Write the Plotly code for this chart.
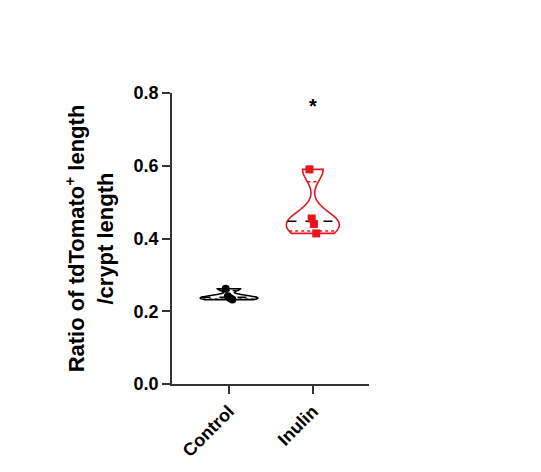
import numpy as np
import plotly.graph_objects as go

# Data
groups = ["Control", "Inulin"]
control_vals = [0.262, 0.241, 0.236, 0.232]
inulin_vals = [0.590, 0.455, 0.440, 0.414]
sig_label = "*"
sig_y = 0.765


def half_width(vals, y, bw, width):
    # gaussian KDE scaled the way plotly does for scalemode="width" + hard span
    v = np.array(vals)
    grid = np.linspace(v.min(), v.max(), 200)
    dens = lambda t: np.exp(-0.5 * ((t - v[:, None]) / bw) ** 2).sum(axis=0)
    return width / 2 * dens(np.atleast_1d(y))[0] / dens(grid).max()


fig = go.Figure()

series = [
    (0, control_vals, "black", "circle", 0.006, 0.69),
    (1, inulin_vals, "#e8141c", "square", 0.03, 0.63),
]

for xpos, vals, col, sym, bw, vw in series:
    fig.add_trace(go.Violin(
        x=[xpos] * len(vals), y=vals,
        line=dict(color=col, width=1.6),
        fillcolor="white",
        points=False, span=[min(vals), max(vals)], spanmode="manual",
        bandwidth=bw, width=vw, scalemode="width",
        hoverinfo="skip",
    ))
    # quartile (dotted) and median (dashed) lines
    q1, med, q3 = np.percentile(vals, [25, 50, 75], method="weibull")
    for yv, dash, lc in [(q1, "dot", col), (q3, "dot", col), (med, "dash", "black")]:
        hw = half_width(vals, yv, bw, vw)
        fig.add_trace(go.Scatter(
            x=[xpos - hw, xpos + hw], y=[yv, yv], mode="lines",
            line=dict(color=lc, width=1.5, dash=dash), hoverinfo="skip",
        ))
    offs = np.linspace(-0.04, 0.04, len(vals))
    fig.add_trace(go.Scatter(
        x=xpos + offs, y=vals, mode="markers",
        marker=dict(color=col, symbol=sym, size=8),
    ))

fig.add_annotation(x=1, y=sig_y, text="<b>%s</b>" % sig_label, showarrow=False,
                   font=dict(size=20, color="black", family="Arial"))

axis_font = dict(family="Liberation Sans, Arial", size=18, color="black")

fig.update_layout(
    width=541, height=472,
    margin=dict(l=164, r=180, t=85, b=96),
    plot_bgcolor="white", paper_bgcolor="white",
    showlegend=False,
    font=dict(family="Liberation Sans, Arial", color="black"),
)
fig.update_xaxes(
    range=[-0.68, 1.67], tickvals=[0, 1], ticktext=["<b>%s</b>" % g for g in groups],
    tickangle=-45, ticks="outside", ticklen=8, tickwidth=1.5, tickcolor="#333",
    showline=True, linecolor="#333", linewidth=1.5, showgrid=False, zeroline=False,
    tickfont=axis_font,
)
fig.update_yaxes(
    range=[0, 0.8], tickvals=[0, 0.2, 0.4, 0.6, 0.8],
    ticktext=["<b>%.1f</b>" % v for v in [0, 0.2, 0.4, 0.6, 0.8]],
    ticks="outside", ticklen=8, tickwidth=1.5, tickcolor="#333",
    showline=True, linecolor="#333", linewidth=1.5, showgrid=False, zeroline=False,
    tickfont=axis_font,
    title=dict(text="<b>Ratio of tdTomato<sup>+</sup> length<br>/crypt length</b>",
               font=dict(family="Liberation Sans, Arial", size=22, color="black"),
               standoff=14),
)

fig.write_html("out.html")
